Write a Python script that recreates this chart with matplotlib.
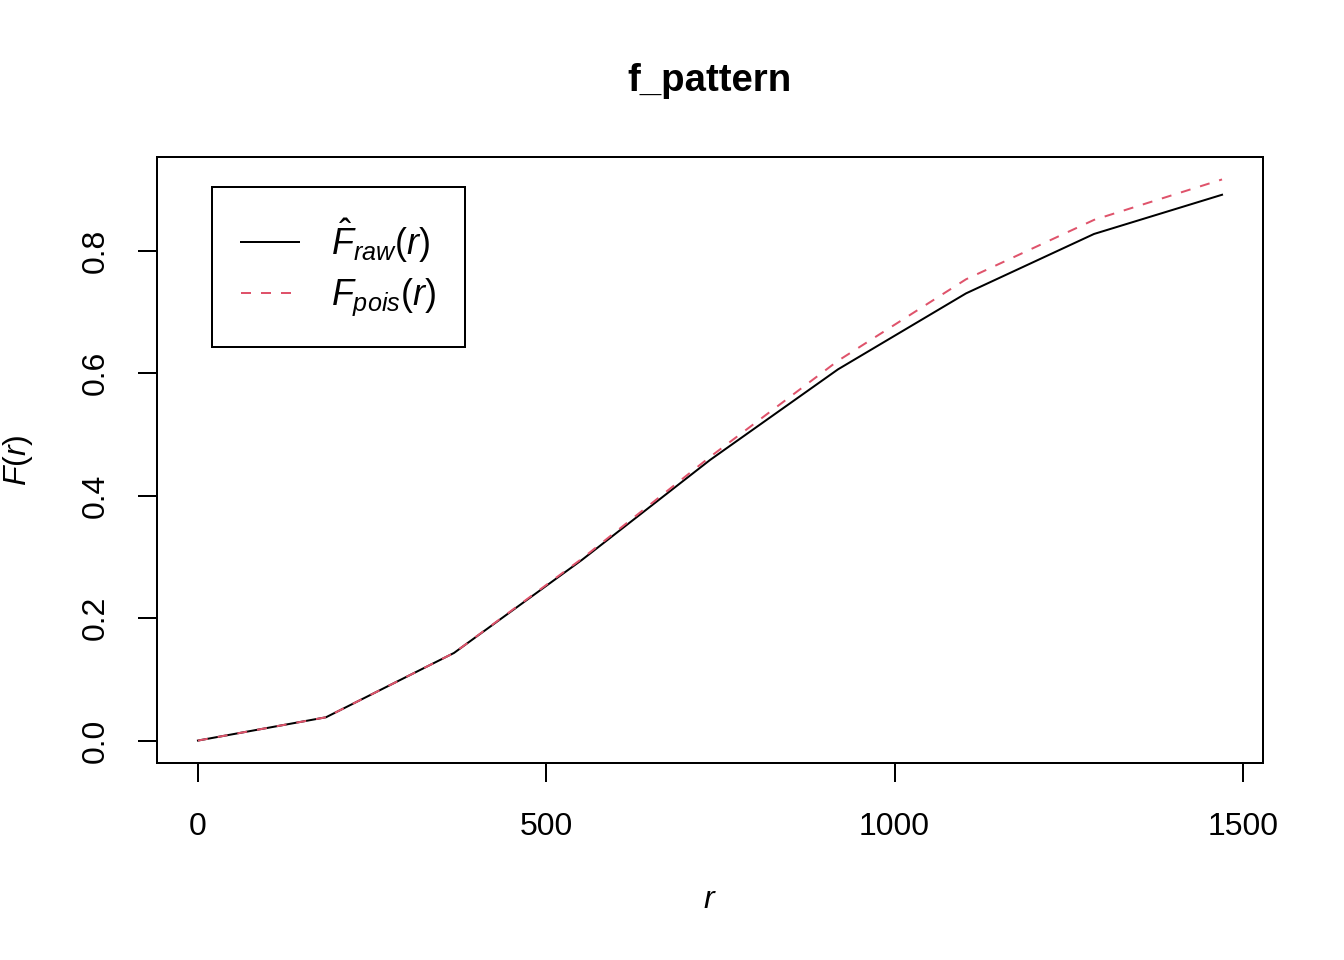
import matplotlib
matplotlib.use("Agg")
import matplotlib.pyplot as plt

# distances r and estimated / theoretical empty-space function
r = [0, 183.75, 367.5, 551.25, 735, 918.75, 1102.5, 1286.25, 1470]
f_raw = [0, 0.038, 0.143, 0.295, 0.458, 0.606, 0.730, 0.827, 0.891]
f_pois = [0, 0.038, 0.143, 0.297, 0.463, 0.620, 0.753, 0.850, 0.916]

plt.rcParams['font.family'] = ['Liberation Sans', 'DejaVu Sans']
plt.rcParams['mathtext.fontset'] = 'custom'
plt.rcParams['mathtext.rm'] = 'Liberation Sans'
plt.rcParams['mathtext.it'] = 'Liberation Sans:italic'
plt.rcParams['mathtext.bf'] = 'Liberation Sans:bold'

fig = plt.figure(figsize=(7, 5), dpi=192)
ax = fig.add_axes([157/1344, 1 - 763/960, (1263-157)/1344, (763-157)/960])

ax.plot(r, f_raw, color='black', lw=0.75, label=r'$\hat{F}_{raw}(r)$')
ax.plot(r, f_pois, color='#DF536B', lw=0.75, dashes=(5, 5), label=r'$F_{pois}(r)$')

# R-style 4% padding on both axes
xmin, xmax = min(r), max(r)
ymin, ymax = 0, max(max(f_raw), max(f_pois))
ax.set_xlim(xmin - 0.04*(xmax-xmin), xmax + 0.04*(xmax-xmin))
ax.set_ylim(ymin - 0.04*(ymax-ymin), ymax + 0.04*(ymax-ymin))

ax.set_xticks([0, 500, 1000, 1500])
ax.set_yticks([0.0, 0.2, 0.4, 0.6, 0.8])
ax.set_yticklabels(['0.0', '0.2', '0.4', '0.6', '0.8'], rotation=90, va='center')
ax.tick_params(axis='both', labelsize=12, length=7.2, width=0.75, color='black')
ax.tick_params(axis='x', pad=11)
ax.tick_params(axis='y', pad=10)
for s in ax.spines.values():
    s.set_linewidth(0.75)

ax.set_xlabel(r'$r$', fontsize=12, va='center')
ax.xaxis.set_label_coords(0.5, (763 - 900) / 606)
ax.set_ylabel(r'$F(r)$', fontsize=12, va='center')
ax.yaxis.set_label_coords((18 - 157) / 1106, 0.5)
fig.text(710/1344, 1 - 81/960, 'f_pattern', fontsize=14.4, fontweight='bold',
         ha='center', va='center')

leg = ax.legend(loc='upper left', bbox_to_anchor=(0.05, 0.95), fontsize=13.5,
                fancybox=False, framealpha=1, edgecolor='black',
                handlelength=1.6, handletextpad=0.9, borderpad=0.8,
                labelspacing=0.35, borderaxespad=0)
leg.get_frame().set_linewidth(0.75)

fig.savefig('out.png', dpi=192)
